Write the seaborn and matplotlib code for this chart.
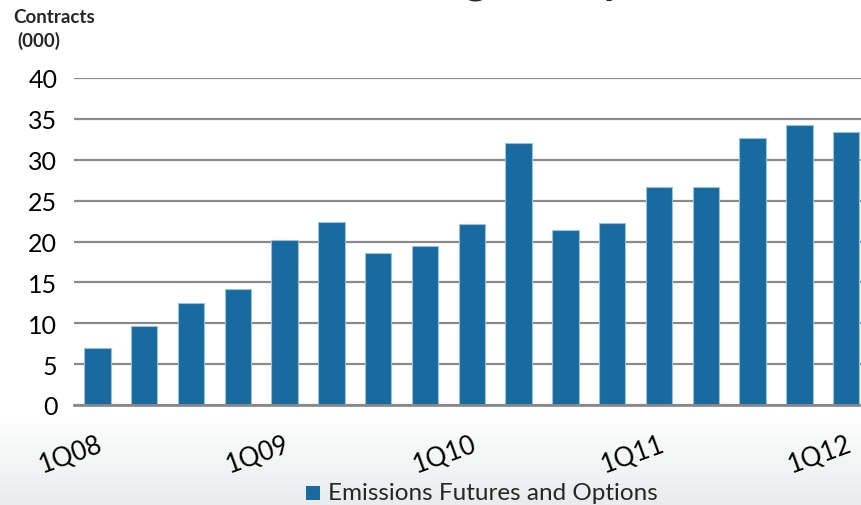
import numpy as np
import pandas as pd
import matplotlib
matplotlib.use("Agg")
import matplotlib.pyplot as plt
import seaborn as sns

# Quarterly volume of emissions futures and options (thousands of contracts)
quarters = ["1Q08", "2Q08", "3Q08", "4Q08",
            "1Q09", "2Q09", "3Q09", "4Q09",
            "1Q10", "2Q10", "3Q10", "4Q10",
            "1Q11", "2Q11", "3Q11", "4Q11",
            "1Q12"]
contracts = [7.0, 9.7, 12.5, 14.2,
             20.2, 22.4, 18.6, 19.5,
             22.2, 32.0, 21.4, 22.3,
             26.7, 26.7, 32.6, 34.2,
             33.4]
yticks = [0, 5, 10, 15, 20, 25, 30, 35, 40]
series_name = "Emissions Futures and Options"

sns.set_theme(style="white")
plt.rcParams["font.family"] = ["Lato", "DejaVu Sans"]

bar_color = "#176b9f"
grid_color = "#8a8a8a"

W, H = 861, 506
fig = plt.figure(figsize=(W / 100, H / 100), dpi=100)
fig.patch.set_facecolor("white")

# soft grey fade along the bottom of the slide
bg = fig.add_axes([0, 0, 1, 1], zorder=-5)
n = 506
grad = np.ones((n, 1, 3))
fade = np.clip((np.arange(n) - 415) / (506 - 415), 0, 1)
top_c = np.array([1.0, 1.0, 1.0])
bot_c = np.array([0.91, 0.925, 0.93])
grad[:, 0, :] = top_c * (1 - fade[:, None]) + bot_c * fade[:, None]
bg.imshow(grad, aspect="auto", extent=[0, 1, 0, 1], origin="upper")
bg.axis("off")

ax = fig.add_axes([74 / W, 100 / H, 17 * 46.8 / W, 327 / H])
ax.set_facecolor("none")

df = pd.DataFrame({"quarter": quarters, "contracts": contracts})
sns.barplot(data=df, x="quarter", y="contracts", color=bar_color,
            width=0.56, edgecolor="#9cc0da", linewidth=0.8,
            saturation=1, ax=ax, zorder=3)

ax.set_xlim(-0.5, len(quarters) - 0.5)
ax.set_ylim(0, 40)
ax.set_yticks(yticks)
ax.set_yticklabels([str(t) for t in yticks], fontsize=18)
ax.yaxis.grid(True, color=grid_color, linewidth=1.6, zorder=0)
ax.set_axisbelow(True)
ax.tick_params(axis="y", length=0, pad=12, colors="black")

ax.set_xticks(range(len(quarters)))
ax.set_xticklabels([q if q.startswith("1Q") else "" for q in quarters],
                   rotation=20, ha="right", rotation_mode="anchor",
                   fontsize=18.5)
ax.tick_params(axis="x", length=0, pad=19, colors="black")
ax.set_xlabel("")
ax.set_ylabel("")

for s in ["top", "right", "left"]:
    ax.spines[s].set_visible(False)
ax.spines["bottom"].set_color(grid_color)
ax.spines["bottom"].set_linewidth(2)
ax.spines["bottom"].set_zorder(4)

fig.text(13 / W, 1 - 9 / H, "Contracts", fontsize=13.5, fontweight="bold",
         va="top", ha="left")
fig.text(17 / W, 1 - 32 / H, "(000)", fontsize=13.5, fontweight="bold",
         va="top", ha="left")

# slide heading, mostly above the visible area
fig.text(568 / W, 1 + 6.5 / H, "Average Daily Volume", fontsize=32,
         fontweight="bold", ha="center", va="baseline")

# legend
fig.patches.append(plt.Rectangle((306 / W, 1 - 501 / H), 14 / W, 14 / H,
                                 transform=fig.transFigure,
                                 facecolor=bar_color, edgecolor="none"))
fig.text(328 / W, 1 - 494 / H, series_name, fontsize=17.5,
         va="center", ha="left")

fig.savefig("out.png", dpi=100)
